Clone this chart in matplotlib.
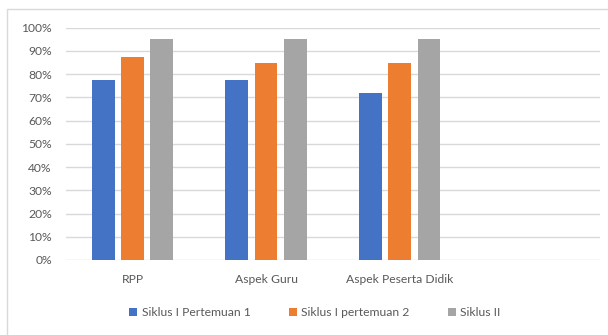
import matplotlib
matplotlib.use("Agg")
import matplotlib.pyplot as plt
import matplotlib.patches as mpatches
import numpy as np

categories = ["RPP", "Aspek Guru", "Aspek Peserta Didik", ""]
series_names = ["Siklus I Pertemuan 1", "Siklus I pertemuan 2", "Siklus II"]
siklus1_p1 = [0.775, 0.775, 0.72, np.nan]
siklus1_p2 = [0.875, 0.85, 0.85, np.nan]
siklus2 = [0.95, 0.95, 0.95, np.nan]
colors = ["#4472C4", "#ED7D31", "#A5A5A5"]
yticks = np.arange(0, 1.01, 0.1)

plt.rcParams['font.family'] = ['Lato', 'DejaVu Sans']

W, H = 608, 335
fig = plt.figure(figsize=(W / 100, H / 100), dpi=100)
fig.patches.append(mpatches.Rectangle((7 / W, -0.05), 1.2, 1 - 9 / H + 0.05,
                                      transform=fig.transFigure, fill=False,
                                      edgecolor="#d9d9d9", linewidth=1.0))

ax = fig.add_axes([65.7 / W, 1 - 260 / H, (600 - 65.7) / W, (260 - 27.7) / H])
x = np.arange(len(categories))
step = 0.22
bw = 0.171
for i, (vals, name) in enumerate(zip([siklus1_p1, siklus1_p2, siklus2], series_names)):
    ax.bar(x + (i - 1) * step, vals, width=bw, color=colors[i], label=name, zorder=3)

ax.set_xlim(-0.5, len(categories) - 0.5)
ax.set_ylim(0, 1.0)
ax.set_yticks(yticks)
ax.set_yticklabels([f"{int(round(v * 100))}%" for v in yticks])
ax.set_xticks(x)
ax.set_xticklabels(categories)
ax.grid(axis="y", color="#d9d9d9", linewidth=1.0, zorder=0)
for s in ax.spines.values():
    s.set_visible(False)
ax.tick_params(axis="both", length=0, labelsize=8.7, labelcolor="#595959")
ax.tick_params(axis="y", pad=10)
ax.tick_params(axis="x", pad=10)

handles, labels = ax.get_legend_handles_labels()
fig.legend(handles, labels, loc="center", bbox_to_anchor=(315 / W, 1 - 313 / H),
           ncol=3, frameon=False, fontsize=8.7, labelcolor="#595959",
           handlelength=0.65, handleheight=0.65, handletextpad=0.35, columnspacing=3.2)

fig.savefig("out.png", dpi=100)
